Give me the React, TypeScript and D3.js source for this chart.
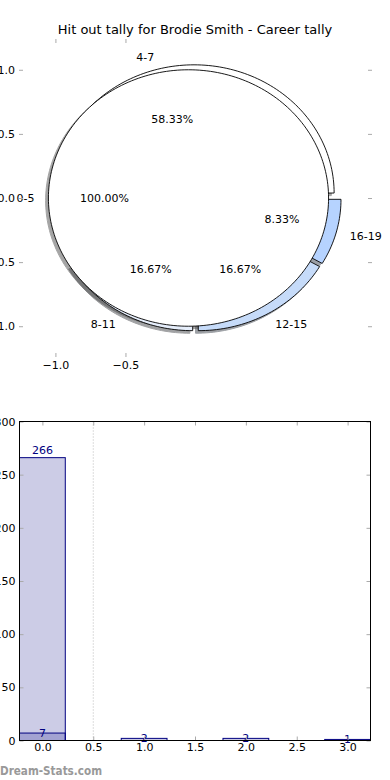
import React, { useEffect, useRef } from 'react';
import * as d3 from 'd3';

// pie: one big wedge drawn over a four-wedge pie
const bigPieLabels = ['0-5'];
const bigPieValues = [266];
const pieLabels = ['4-7', '8-11', '12-15', '16-19'];
const pieValues = [7, 2, 2, 1];
const pieColors = ['#ffffff', '#e6eefb', '#c6dbf9', '#b6d3ff'];

// bars
const barAPositions = [0];
const barAValues = [266];
const barBPositions = [0, 1, 2, 3];
const barBValues = [7, 2, 2, 1];

const pieXTicks = [-1.0, -0.5];
const pieYTicks = [-1.0, -0.5, 0.0, 0.5, 1.0];
const barXTicks = [0, 0.5, 1, 1.5, 2, 2.5, 3];
const barYTicks = [0, 50, 100, 150, 200, 250, 300];

const FONT = 'DejaVu Sans, sans-serif';
const TICK = '#aaaaaa';

const App: React.FC = () => {
  const ref = useRef<SVGSVGElement>(null);

  useEffect(() => {
    const svg = d3.select(ref.current);
    svg.selectAll('*').remove();

    svg.append('rect').attr('width', 390).attr('height', 780).attr('fill', '#fff');

    // title
    svg.append('text')
      .attr('x', 195).attr('y', 34)
      .attr('text-anchor', 'middle')
      .attr('font-family', FONT).attr('font-size', 13)
      .text('Hit out tally for Brodie Smith - Career tally');

    // ---------- pie axes ----------
    const pl = 19, pr = 372, pt = 39, pb = 357;
    const px = d3.scaleLinear().domain([-1.26, 1.26]).range([pl, pr]);
    const py = d3.scaleLinear().domain([-1.24, 1.24]).range([pb, pt]);

    const wedgePath = (cx: number, cy: number, r: number, a0: number, a1: number) => {
      const full = a1 - a0 >= 2 * Math.PI - 1e-9;
      const n = Math.max(2, Math.ceil(((a1 - a0) / (2 * Math.PI)) * 240));
      const pts: [number, number][] = full ? [] : [[cx, cy]];
      d3.range(n + 1).forEach((i) => {
        const a = a0 + ((a1 - a0) * i) / n;
        pts.push([cx + r * Math.cos(a), cy + r * Math.sin(a)]);
      });
      if (!full) pts.push([cx, cy]);
      const line = d3.line<[number, number]>().x((d) => px(d[0])).y((d) => py(d[1]));
      return line(pts) + 'Z';
    };

    const pie = d3.pie<number>().sort(null).startAngle(0).endAngle(2 * Math.PI);

    const makeWedges = (values: number[], labels: string[], colors: string[], explode: number) =>
      pie(values).map((d, i) => {
        const mid = (d.startAngle + d.endAngle) / 2;
        return {
          a0: d.startAngle, a1: d.endAngle, mid,
          cx: explode * Math.cos(mid), cy: explode * Math.sin(mid),
          label: labels[i], color: colors[i],
          pct: (d.endAngle - d.startAngle) / (2 * Math.PI) * 100,
        };
      });

    const small = makeWedges(pieValues, pieLabels, pieColors, 0.04);
    const big = makeWedges(bigPieValues, bigPieLabels, ['#ffffff'], 0.05);

    const shade = (c: string) => {
      const rgb = d3.rgb(c);
      return d3.rgb(rgb.r * 0.3, rgb.g * 0.3, rgb.b * 0.3).formatHex();
    };

    const pieG = svg.append('g');
    // shadows below everything
    [...small, ...big].forEach((w) => {
      pieG.append('path')
        .attr('d', wedgePath(w.cx - 0.02, w.cy - 0.02, 1, w.a0, w.a1))
        .attr('fill', shade(w.color)).attr('stroke', shade(w.color))
        .attr('opacity', 0.5);
    });
    [...small, ...big].forEach((w) => {
      pieG.append('path')
        .attr('d', wedgePath(w.cx, w.cy, 1, w.a0, w.a1))
        .attr('fill', w.color).attr('stroke', '#000').attr('stroke-width', 0.9)
        .attr('stroke-linejoin', 'miter');
    });
    [...small, ...big].forEach((w) => {
      const lx = w.cx + 1.1 * Math.cos(w.mid);
      const ly = w.cy + 1.1 * Math.sin(w.mid);
      pieG.append('text')
        .attr('x', px(lx)).attr('y', py(ly))
        .attr('dy', '0.35em')
        .attr('text-anchor', lx < 0 ? 'end' : 'start')
        .attr('font-family', FONT).attr('font-size', 11)
        .text(w.label);
      const tx = w.cx + 0.6 * Math.cos(w.mid);
      const ty = w.cy + 0.6 * Math.sin(w.mid);
      pieG.append('text')
        .attr('x', px(tx)).attr('y', py(ty))
        .attr('dy', '0.35em')
        .attr('text-anchor', 'middle')
        .attr('font-family', FONT).attr('font-size', 11)
        .text(d3.format('.2f')(w.pct) + '%');
    });

    const styleAxis = (g: d3.Selection<SVGGElement, unknown, null, undefined>) => {
      g.select('.domain').remove();
      g.selectAll('line').attr('stroke', TICK);
      g.selectAll('text').attr('font-family', FONT).attr('font-size', 11).attr('fill', '#000');
    };

    svg.append('g').attr('transform', `translate(${pl},0)`)
      .call(d3.axisLeft(py).tickValues(pieYTicks).tickSize(-4).tickPadding(4).tickFormat(d3.format('.1f')))
      .call(styleAxis);
    svg.append('g').attr('transform', `translate(${pr},0)`)
      .call(d3.axisRight(py).tickValues(pieYTicks).tickSize(-4).tickFormat(() => ''))
      .call(styleAxis);
    svg.append('g').attr('transform', `translate(0,${pt})`)
      .call(d3.axisTop(px).tickValues(pieXTicks).tickSize(-4).tickFormat(() => ''))
      .call(styleAxis);
    svg.append('g').attr('transform', `translate(0,${pb})`)
      .call(d3.axisBottom(px).tickValues(pieXTicks).tickSize(-4).tickPadding(4).tickFormat(d3.format('.1f')))
      .call(styleAxis);

    // ---------- bar axes ----------
    const bl = 19.5, br = 370.5, bt = 421.5, bb = 740.5;
    const bx = d3.scaleLinear().domain([-0.225, 3.225]).range([bl, br]);
    const by = d3.scaleLinear().domain([0, 300]).range([bb, bt]);
    const bw = 0.45;

    const barG = svg.append('g');
    barG.append('line')
      .attr('x1', bx(0.5)).attr('x2', bx(0.5))
      .attr('y1', bt).attr('y2', bb)
      .attr('stroke', '#bbbbbb').attr('stroke-dasharray', '1,2');

    const drawBars = (pos: number[], vals: number[]) => {
      barG.selectAll(null)
        .data(pos.map((p, i) => ({ p, v: vals[i] })))
        .enter().append('rect')
        .attr('x', (d) => bx(d.p - bw / 2))
        .attr('y', (d) => by(d.v))
        .attr('width', bx(bw) - bx(0))
        .attr('height', (d) => by(0) - by(d.v))
        .attr('fill', 'rgba(0,0,128,0.2)')
        .attr('stroke', '#000080').attr('stroke-width', 1);
    };
    drawBars(barAPositions, barAValues);
    drawBars(barBPositions, barBValues);

    barAPositions.forEach((p, i) => {
      barG.append('text')
        .attr('x', bx(p)).attr('y', by(barAValues[i]) - 4)
        .attr('text-anchor', 'middle')
        .attr('font-family', FONT).attr('font-size', 11).attr('fill', '#000080')
        .text(barAValues[i]);
    });
    barBPositions.forEach((p, i) => {
      barG.append('text')
        .attr('x', bx(p)).attr('y', by(barBValues[i]) + 4)
        .attr('text-anchor', 'middle')
        .attr('font-family', FONT).attr('font-size', 11).attr('fill', '#000080')
        .text(barBValues[i]);
    });

    svg.append('g').attr('transform', `translate(${bl},0)`)
      .call(d3.axisLeft(by).tickValues(barYTicks).tickSize(-4).tickPadding(4).tickFormat(d3.format('d')))
      .call(styleAxis);
    svg.append('g').attr('transform', `translate(${br},0)`)
      .call(d3.axisRight(by).tickValues(barYTicks).tickSize(-4).tickFormat(() => ''))
      .call(styleAxis);
    svg.append('g').attr('transform', `translate(0,${bt})`)
      .call(d3.axisTop(bx).tickValues(barXTicks).tickSize(-4).tickFormat(() => ''))
      .call(styleAxis);
    svg.append('g').attr('transform', `translate(0,${bb})`)
      .call(d3.axisBottom(bx).tickValues(barXTicks).tickSize(-4).tickPadding(3).tickFormat(d3.format('.1f')))
      .call(styleAxis);

    svg.append('rect')
      .attr('x', bl).attr('y', bt).attr('width', br - bl).attr('height', bb - bt)
      .attr('fill', 'none').attr('stroke', '#000').attr('stroke-width', 1);

    // watermark
    svg.append('text')
      .attr('x', 0).attr('y', 775)
      .attr('font-family', FONT).attr('font-size', 12).attr('font-weight', 600)
      .attr('fill', '#999999')
      .attr('textLength', 102).attr('lengthAdjust', 'spacingAndGlyphs')
      .text('Dream-Stats.com');
  }, []);

  return (
    <svg ref={ref} width={390} height={780}
      style={{ position: 'absolute', left: 0, top: 0, display: 'block' }} />
  );
};

export default App;
